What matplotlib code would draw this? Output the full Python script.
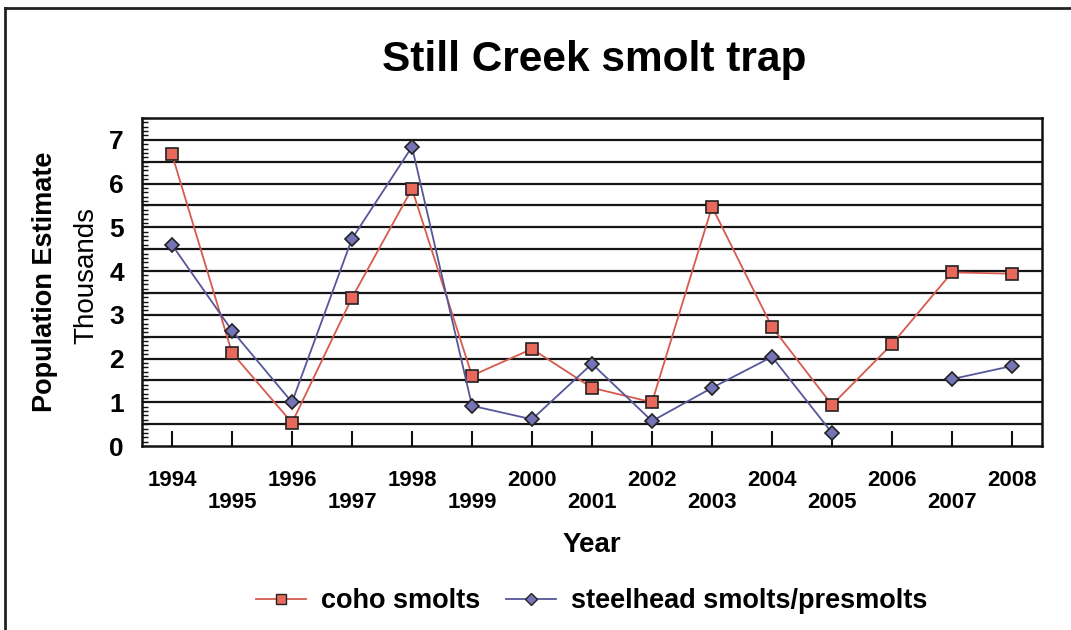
import matplotlib
matplotlib.use("Agg")
import matplotlib.pyplot as plt
import numpy as np
from matplotlib.lines import Line2D

years = [1994, 1995, 1996, 1997, 1998, 1999, 2000, 2001, 2002, 2003, 2004, 2005, 2006, 2007, 2008]
coho = [6.67, 2.13, 0.53, 3.39, 5.88, 1.61, 2.22, 1.33, 1.00, 5.47, 2.72, 0.94, 2.33, 3.97, 3.94]
steelhead = [4.60, 2.64, 1.00, 4.74, 6.84, 0.92, 0.61, 1.88, 0.57, 1.33, 2.04, 0.30, np.nan, 1.53, 1.83]
ytick_labels = ["0", "1", "2", "3", "4", "5", "6", "7"]

plt.rcParams['font.family'] = ['Liberation Sans', 'DejaVu Sans']

fig = plt.figure(figsize=(10.71, 6.30), dpi=100)
ax = fig.add_axes([142/1071, 1-446/630, 900/1071, 328/630])

red_line = '#D65A4E'
red_face = '#E8695B'
blue_line = '#56569A'
blue_face = '#7474B6'

for g in np.arange(0.5, 7.01, 0.5):
    ax.axhline(g, color='#151515', lw=1.6, zorder=1)

ax.plot(years, coho, color=red_line, lw=1.3, marker='s', ms=9,
        mfc=red_face, mec='#222222', mew=1.2, zorder=3, label='coho smolts')
ax.plot(years, steelhead, color=blue_line, lw=1.3, marker='D', ms=7.5,
        mfc=blue_face, mec='#222222', mew=1.2, zorder=3, label='steelhead smolts/presmolts')

ax.set_xlim(1993.5, 2008.5)
ax.set_ylim(0, 7.5)
for s in ax.spines.values():
    s.set_linewidth(1.8)
    s.set_color('#111111')

ax.set_xticks(years)
ax.set_xticklabels([str(y) if i % 2 == 0 else "\n" + str(y) for i, y in enumerate(years)],
                   fontsize=16, fontweight='bold', linespacing=1.08)
ax.tick_params(axis='x', direction='in', length=11, width=1.5, pad=17, color='#111111')
ax.set_yticks(range(0, 8))
ax.set_yticklabels(ytick_labels, fontsize=19, fontweight='bold')
ax.set_yticks(np.arange(0, 7.51, 0.1), minor=True)
ax.tick_params(axis='y', which='major', direction='in', length=0, pad=13)
ax.tick_params(axis='y', which='minor', direction='in', length=4, width=1.0, color='#111111')

ax.set_xlabel('Year', fontsize=20, fontweight='bold', labelpad=14)

fig.text(594/1071, 1-60/630, 'Still Creek smolt trap', fontsize=30.5, fontweight='bold',
         ha='center', va='center')
fig.text(45/1071, 1-282/630, 'Population Estimate', fontsize=19.5, fontweight='bold',
         rotation=90, ha='center', va='center')
fig.text(86/1071, 1-275/630, 'Thousands', fontsize=20,
         rotation=90, ha='center', va='center')

handles = [Line2D([], [], color=red_line, lw=1.3, marker='s', ms=7, mfc=red_face, mec='#222222', mew=1.0),
           Line2D([], [], color=blue_line, lw=1.3, marker='D', ms=6, mfc=blue_face, mec='#222222', mew=1.0)]
leg = fig.legend(handles, ['coho smolts', 'steelhead smolts/presmolts'], loc='center',
                 bbox_to_anchor=(592/1071, 1-601/630), ncol=2, frameon=False,
                 prop={'size': 19.5, 'weight': 'bold'}, handlelength=1.85, handletextpad=0.55,
                 columnspacing=0.95)

# page frame (left and top edges)
fig.add_artist(Line2D([5/1071, 5/1071], [0, 1-8/630], transform=fig.transFigure, color='#222222', lw=2))
fig.add_artist(Line2D([5/1071, 1], [1-8/630, 1-8/630], transform=fig.transFigure, color='#222222', lw=2))

fig.savefig('out.png', dpi=100)
